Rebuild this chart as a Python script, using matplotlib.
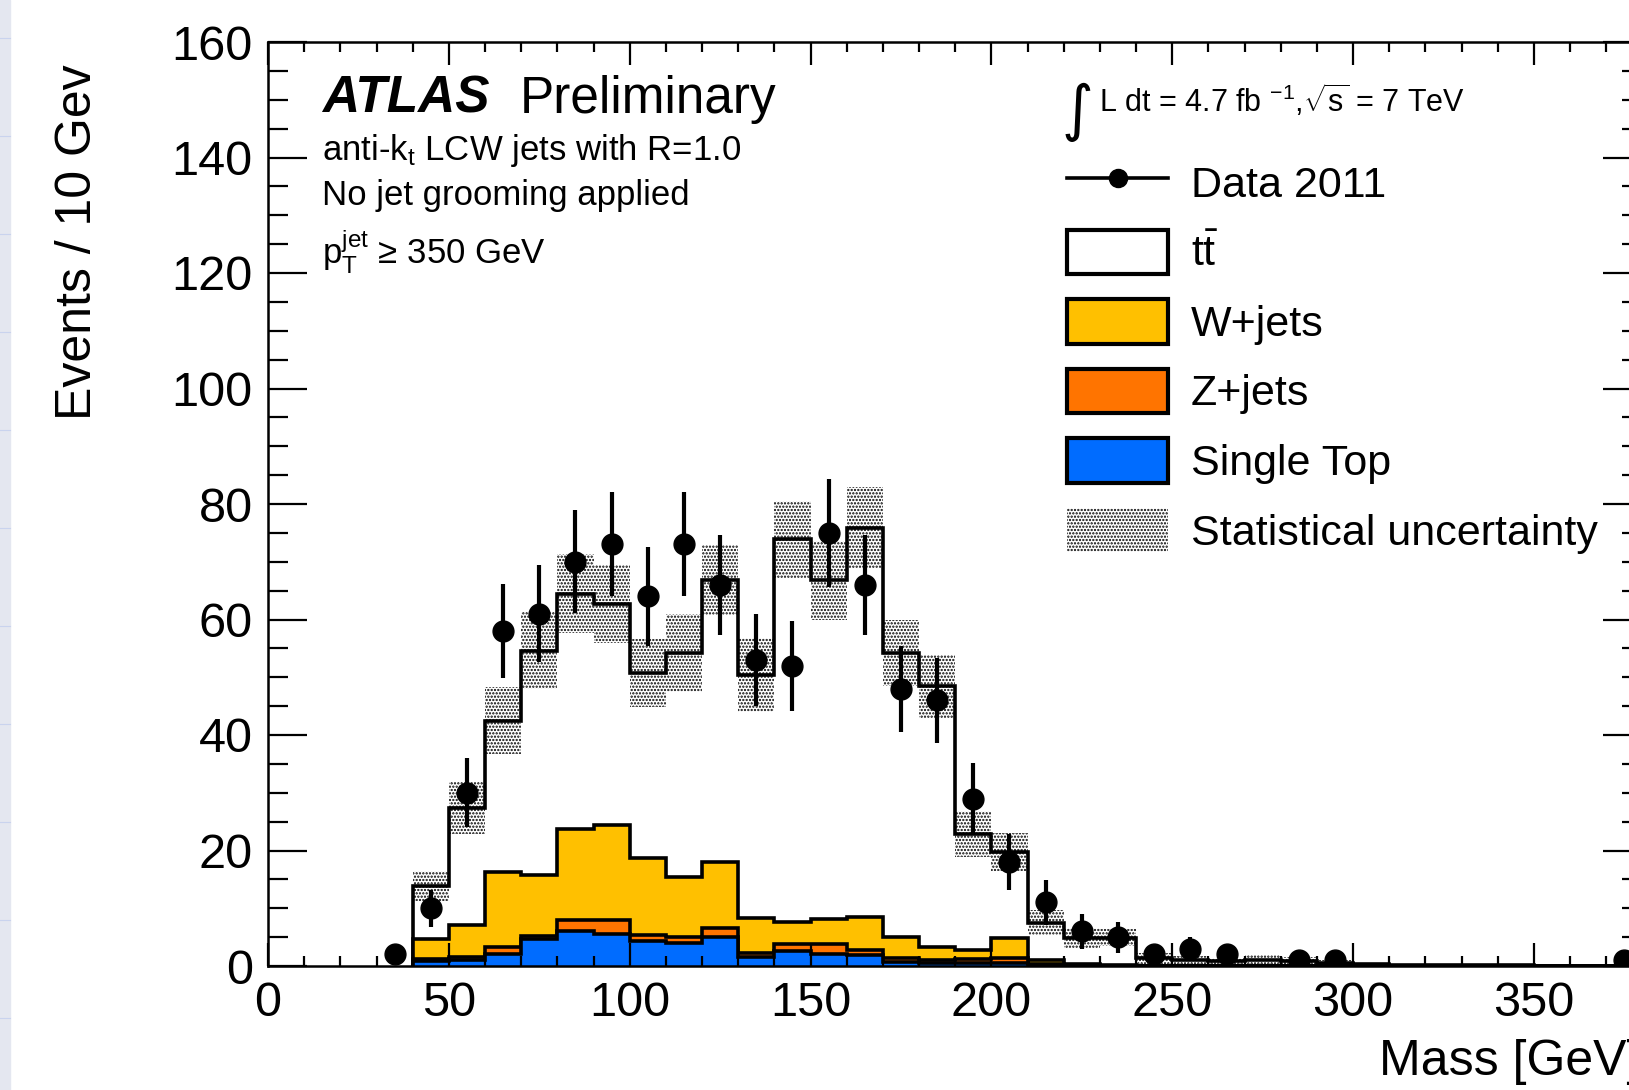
import numpy as np
import matplotlib
matplotlib.use('Agg')
import matplotlib.pyplot as plt
from matplotlib.lines import Line2D
from matplotlib.patches import Patch, Rectangle
from matplotlib.ticker import MultipleLocator

plt.rcParams['font.family'] = ['Liberation Sans', 'DejaVu Sans']
plt.rcParams['mathtext.fontset'] = 'custom'
plt.rcParams['mathtext.rm'] = 'Liberation Sans'
plt.rcParams['mathtext.it'] = 'Liberation Sans:italic'
plt.rcParams['mathtext.bf'] = 'Liberation Sans:bold'
plt.rcParams['hatch.linewidth'] = 1.1

# bin edges (GeV), 10 GeV bins
edges = np.arange(40, 390, 10)

# MC components per bin (events / 10 GeV)
single_top = [0.8, 1.0, 2.1, 4.6, 6.1, 5.6, 4.4, 3.9, 5.0, 1.6, 2.6, 2.1, 1.9, 0.7, 0.6, 0.5, 0.5, 0.1, 0.1,
              0, 0, 0, 0, 0, 0, 0, 0, 0, 0, 0, 0, 0, 0, 0]
z_jets = [0.4, 0.6, 1.2, 0.6, 1.9, 2.4, 0.9, 1.1, 1.5, 0.6, 1.2, 1.7, 0.8, 0.6, 0.4, 0.7, 0.8, 0.2, 0.1,
          0, 0, 0, 0, 0, 0, 0, 0, 0, 0, 0, 0, 0, 0, 0]
w_jets = [3.5, 5.5, 12.9, 10.5, 15.8, 16.5, 13.4, 10.4, 11.5, 6.1, 3.9, 4.4, 5.8, 3.8, 2.3, 1.6, 3.6, 0.8, 0.1, 0.1,
          0, 0, 0, 0, 0, 0, 0, 0, 0, 0, 0, 0, 0, 0]
ttbar = [9.1, 20.2, 26.3, 38.9, 40.7, 38.2, 32.0, 38.8, 48.8, 42.1, 66.2, 58.6, 67.4, 49.1, 45.1, 20.0, 14.9, 6.4,
         4.6, 4.8, 1.3, 1.0, 0.8, 1.1, 0.9, 0.5, 0.3, 0.2, 0.2, 0.1, 0.1, 0.05, 0.05, 0.05]
stat_unc = [2.6, 4.5, 5.8, 6.7, 6.8, 6.7, 5.9, 6.7, 6.1, 6.4, 6.7, 6.8, 7.0, 5.8, 5.5, 4.0, 3.3, 2.2, 1.7, 1.5,
            1.0, 0.8, 0.6, 0.8, 0.7, 0.5, 0.3, 0.2, 0.2, 0.1, 0.1, 0.05, 0.05, 0.05]

# data 2011
data_x = [35, 45, 55, 65, 75, 85, 95, 105, 115, 125, 135, 145, 155, 165, 175, 185, 195, 205, 215, 225, 235,
          245, 255, 265, 285, 295, 375]
data_y = [2, 10, 30, 58, 61, 70, 73, 64, 73, 66, 53, 52, 75, 66, 48, 46, 29, 18, 11, 6, 5,
          2, 3, 2, 1, 1, 1]
data_err = [1.4, 3.2, 6.0, 8.2, 8.4, 8.9, 9.0, 8.6, 9.0, 8.7, 7.9, 7.8, 9.3, 8.7, 7.4, 7.3, 6.2, 4.9, 3.9, 3.0, 2.7,
            1.6, 2.0, 1.6, 1.2, 1.2, 1.2]

W_COL = '#ffc000'
Z_COL = '#ff7400'
ST_COL = '#006cff'

W, H = 1629, 1090
def px(x, y):
    return x / W, 1 - y / H

fig = plt.figure(figsize=(W / 100, H / 100), dpi=100)

# slide background strip on the far left
fig.patches.append(Rectangle((0, 0), 10 / W, 1, transform=fig.transFigure, color='#e4e7f0', zorder=0))
for yy in np.arange(38, H, 98):
    fig.add_artist(Line2D([0, 10 / W], [1 - yy / H] * 2, color='#c9d3ee', lw=0.8))

ax = fig.add_axes([268 / W, 1 - 966 / H, 380 * 3.617 / W, 924 / H])

st = np.array(single_top)
l2 = st + np.array(z_jets)
l3 = l2 + np.array(w_jets)
l4 = l3 + np.array(ttbar)
unc = np.array(stat_unc)

lw = 2.6
ax.stairs(l4, edges, baseline=l3, fill=True, color='white', lw=0)
ax.stairs(l4, edges, color='black', lw=lw)
ax.stairs(l3, edges, baseline=l2, fill=True, color=W_COL, lw=0)
ax.stairs(l3, edges, color='black', lw=lw)
ax.stairs(l2, edges, baseline=st, fill=True, color=Z_COL, lw=0)
ax.stairs(l2, edges, color='black', lw=lw)
ax.stairs(st, edges, baseline=0, fill=True, color=ST_COL, lw=0)
ax.stairs(st, edges, color='black', lw=lw)

# statistical uncertainty band
ax.stairs(l4 + unc, edges, baseline=np.clip(l4 - unc, 0, None), fill=True,
          facecolor='none', edgecolor='black', hatch='.....', lw=0)

ax.errorbar(data_x, data_y, yerr=data_err, fmt='o', color='black', ms=15,
            elinewidth=3, capsize=0, zorder=5)

ax.set_xlim(0, 380)
ax.set_ylim(0, 160)
ax.xaxis.set_major_locator(MultipleLocator(50))
ax.xaxis.set_minor_locator(MultipleLocator(10))
ax.yaxis.set_major_locator(MultipleLocator(20))
ax.yaxis.set_minor_locator(MultipleLocator(5))
ax.tick_params(which='both', direction='in', top=True, right=True, width=1.6, labelsize=35, pad=11)
ax.tick_params(axis='y', which='major', length=28)
ax.tick_params(axis='y', which='minor', length=14.5)
ax.tick_params(axis='x', which='major', length=16.5)
ax.tick_params(axis='x', which='minor', length=7.5)
for s in ax.spines.values():
    s.set_linewidth(1.8)

# axis titles
fig.text(*px(78, 64), 'Events / 10 Gev', rotation=90, ha='center', va='top', fontsize=36)
fig.text(*px(1640, 1062), 'Mass [GeV]', ha='right', va='center', fontsize=36)

# labels
fig.text(*px(322, 99), 'ATLAS', fontsize=37, fontweight='bold', fontstyle='italic', va='center')
fig.text(*px(520, 99), 'Preliminary', fontsize=37, va='center')
fig.text(*px(322, 150), r'anti-k$_{\rm t}$ LCW jets with R=1.0', fontsize=25, va='center')
fig.text(*px(322, 195), 'No jet grooming applied', fontsize=25, va='center')
fig.text(*px(322, 252), r'p$_{\rm T}^{\rm jet}$ ≥ 350 GeV', fontsize=25, va='center')

fig.text(*px(1062, 112), '∫', fontsize=44, family='DejaVu Sans', va='center')
fig.text(*px(1099, 101), r'L dt = 4.7 fb $^{-1}$,$\sqrt{\rm s}$ = 7 TeV', fontsize=22, va='center')

handles = [
    Line2D([], [], color='black', marker='o', ms=13, lw=2.6),
    Patch(facecolor='white', edgecolor='black', lw=3),
    Patch(facecolor=W_COL, edgecolor='black', lw=3),
    Patch(facecolor=Z_COL, edgecolor='black', lw=3),
    Patch(facecolor=ST_COL, edgecolor='black', lw=3),
    Patch(facecolor='none', edgecolor='black', hatch='.....', lw=0),
]
labels = ['Data 2011', r'$\mathrm{t\bar{t}}$', 'W+jets', 'Z+jets', 'Single Top', 'Statistical uncertainty']
ax.legend(handles, labels, loc='upper left', bbox_to_anchor=px(1067, 160), bbox_transform=fig.transFigure,
          frameon=False, fontsize=31, borderpad=0, borderaxespad=0, handlelength=2.35, handleheight=1.22,
          handletextpad=0.53, labelspacing=0.55)

fig.savefig('out.png', dpi=100)
